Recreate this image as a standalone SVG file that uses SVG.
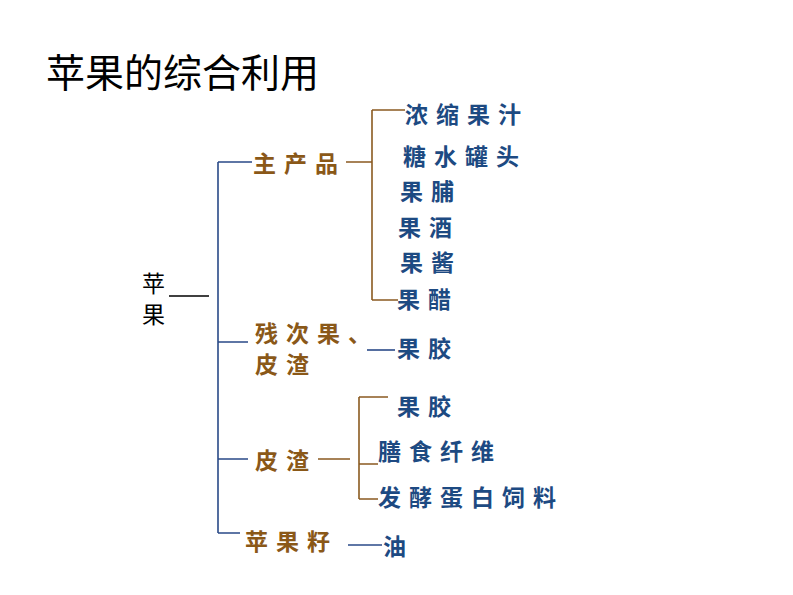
<svg xmlns="http://www.w3.org/2000/svg" width="793" height="595" viewBox="0 0 793 595">
<style>
text{font-family:"Noto Sans CJK SC","Noto Sans",sans-serif;dominant-baseline:central}
.t{font-size:39px;fill:#000;dominant-baseline:auto}
.b{font-size:23px;fill:#1d4a82;letter-spacing:8px;font-weight:700}
.o{font-size:23px;fill:#8a5818;letter-spacing:8px;font-weight:700}
.r{font-size:23px;fill:#000}
.lb{stroke:#2a4a88;stroke-width:1.6;fill:none}
.lo{stroke:#8a5a20;stroke-width:1.6;fill:none}
.lk{stroke:#000;stroke-width:1.4;fill:none}
</style>
<rect width="793" height="595" fill="#fff"/>
<text class="t" x="46" y="87">苹果的综合利用</text>
<g id="connectors">
<path class="lk" d="M169 296H209"/>
<path class="lb" d="M218 162V533M218 162H252M218 342H248M218 459H248M218 533H240"/>
<path class="lo" d="M346 162H372M372 110V300M372 110H405M372 300H398"/>
<path class="lb" d="M367 350H395"/>
<path class="lo" d="M318 459H350M359 397V499M359 397H388M359 464H378M359 499H378"/>
<path class="lb" d="M348 545H382"/>
</g>
<g id="root"><text class="r" x="142" y="282">苹</text><text class="r" x="142" y="313">果</text></g>
<g id="main"><text class="o" x="253" y="162">主产品</text></g>
<g id="p1"><text class="b" x="405" y="113">浓缩果汁</text></g>
<g id="p2"><text class="b" x="403" y="155">糖水罐头</text></g>
<g id="p3"><text class="b" x="400" y="190">果脯</text></g>
<g id="p4"><text class="b" x="398" y="226">果酒</text></g>
<g id="p5"><text class="b" x="400" y="261">果酱</text></g>
<g id="p6"><text class="b" x="397" y="298">果醋</text></g>
<g id="residue"><text class="o" x="255" y="332">残次果、</text><text class="o" x="255" y="363">皮渣</text></g>
<g id="r1"><text class="b" x="397" y="347">果胶</text></g>
<g id="peel"><text class="o" x="255" y="459">皮渣</text></g>
<g id="s1"><text class="b" x="397" y="405">果胶</text></g>
<g id="s2"><text class="b" x="378" y="450">膳食纤维</text></g>
<g id="s3"><text class="b" x="378" y="496">发酵蛋白饲料</text></g>
<g id="seed"><text class="o" x="245" y="540">苹果籽</text></g>
<g id="oil"><text class="b" x="383" y="545">油</text></g>
</svg>
